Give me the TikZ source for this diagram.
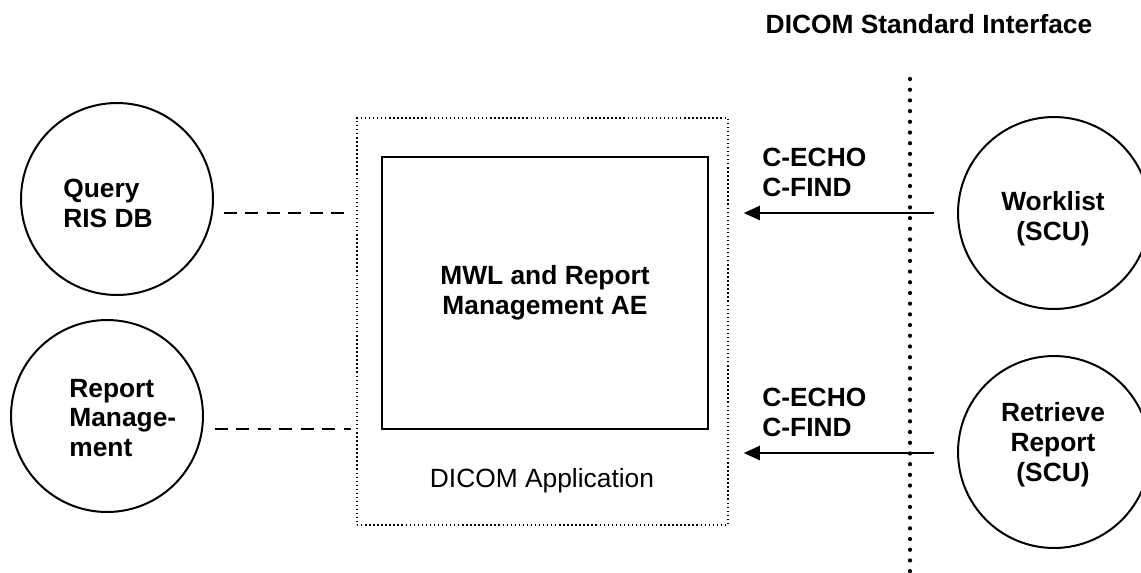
\documentclass[tikz,border=0pt]{standalone}
\usepackage{fontspec}
\setmainfont{Liberation Sans}
\usepackage{tikz}
\usetikzlibrary{calc,arrows.meta}

\begin{document}
\begin{tikzpicture}[x=0.02cm, y=-0.02cm,
	txt/.style={font=\fontsize{15}{17}\selectfont\bfseries, inner sep=0pt},
	ent/.style={draw, circle, line width=0.04cm, minimum size=3.84cm, inner sep=0pt},
	dashline/.style={line width=0.04cm, dash pattern=on 0.26cm off 0.17cm},
	msg/.style={line width=0.04cm, -{Triangle[length=0.32cm, width=0.28cm]}}]
	\useasboundingbox (0, 0) rectangle (1141, 572);
	\node[txt] (title) at (929, 24) {DICOM Standard Interface};
	\coordinate (I1) at (910, 79);
	\coordinate (I2) at (910, 580);
	\draw[line width=0.085cm, line cap=round, dash pattern=on 0pt off 0.214cm] (I1) -- (I2);
	\node[draw, line width=0.9pt, dash pattern=on 0.8pt off 1.5pt, minimum width=7.42cm, minimum height=8.14cm] (app) at (542.5, 321.5) {};
	\node[txt, draw, align=center, line width=0.04cm, minimum width=6.52cm, minimum height=5.44cm] (ae) at (545, 293) {MWL and Report\\Management AE};
	\node[txt, font=\fontsize{15}{17}\selectfont] (applbl) at (542, 481) {DICOM Application};
	\node[ent] (query) at (117, 199) {};
	\node[txt, align=left, anchor=west] (query-txt) at (63, 203.5) {Query\\RIS DB};
	\node[ent] (mgmt) at (107, 416) {};
	\node[txt, align=left, anchor=west] (mgmt-txt) at (69, 418) {Report\\Manage-\\ment};
	\node[ent] (wl) at (1054, 213) {};
	\node[txt, align=center] (wl-txt) at (1053, 218.5) {Worklist\\(SCU)};
	\node[ent] (rr) at (1054, 452) {};
	\node[txt, align=center] (rr-txt) at (1053, 445) {Retrieve\\Report\\(SCU)};
	\coordinate (q-out) at ([shift={(10, 14)}]query.east);
	\coordinate (m-out) at ([shift={(11, 13)}]mgmt.east);
	\draw[dashline, shorten >=0.1cm] (q-out) -- (q-out -| app.west);
	\draw[dashline, shorten >=0.1cm] (m-out) -- (m-out -| app.west);
	\coordinate (wl-out) at ([shift={(-23, 0)}]wl.west);
	\coordinate (rr-out) at ([shift={(-23, 1)}]rr.west);
	\draw[msg, shorten >=0.3cm] (wl-out) -- (wl-out -| app.east);
	\draw[msg, shorten >=0.3cm] (rr-out) -- (rr-out -| app.east);
	\node[txt, align=left, anchor=west] (echo1) at (762, 172) {C-ECHO\\C-FIND};
	\node[txt, align=left, anchor=west] (echo2) at (762, 412) {C-ECHO\\C-FIND};
\end{tikzpicture}
\end{document}
